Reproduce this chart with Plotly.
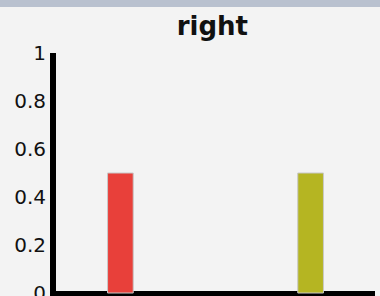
import plotly.graph_objects as go

categories = ["left", "right"]
values = [0.5, 0.5]
bar_colors = ["#e8403a", "#b5b522"]
y_ticks = [0, 0.2, 0.4, 0.6, 0.8, 1]
y_tick_labels = ["0", "0.2", "0.4", "0.6", "0.8", "1"]
title_text = "right"

fig = go.Figure()
fig.add_trace(go.Bar(
    x=categories, y=values,
    marker=dict(color=bar_colors, line=dict(color="#c8c8c8", width=1)),
    width=0.135,
))

fig.update_layout(
    width=380, height=296,
    margin=dict(l=56, r=5, t=53, b=0, autoexpand=False),
    paper_bgcolor="#f3f3f3",
    plot_bgcolor="#f3f3f3",
    showlegend=False,
    title=dict(text="<b>" + title_text + "</b>", x=0.49, xref="paper", xanchor="center",
               y=1 - 26 / 296, yref="container", yanchor="middle",
               font=dict(family="DejaVu Sans", size=26, color="#111111")),
    font=dict(family="DejaVu Sans", size=20, color="#111111"),
    shapes=[dict(type="rect", xref="paper", yref="paper", x0=-1, x1=2,
                 y0=289 / 243, y1=1.5, fillcolor="#b9c1cf",
                 line=dict(width=0), layer="below")],
)
fig.update_xaxes(range=[-0.3385, 1.3385], showticklabels=False, showgrid=False,
                 zeroline=False, showline=False, ticks="", automargin=False)
fig.update_yaxes(range=[-0.0125, 1], tickvals=y_ticks, ticktext=y_tick_labels,
                 showgrid=False, showline=True, linecolor="black", linewidth=6,
                 zeroline=True, zerolinecolor="black", zerolinewidth=5,
                 ticks="", layer="below traces", tickfont=dict(size=20),
                 ticklabeloverflow="allow", automargin=False)
fig.write_html("out.html", config={"displayModeBar": False},
               post_script="document.body.style.margin='0';")
